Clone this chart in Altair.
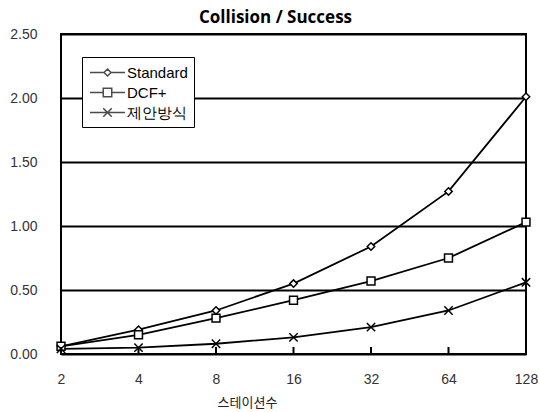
import altair as alt
import pandas as pd

stations = ["2", "4", "8", "16", "32", "64", "128"]
series_names = ["Standard", "DCF+", "제안방식"]
standard = [0.06, 0.19, 0.34, 0.55, 0.84, 1.27, 2.01]
dcf = [0.06, 0.15, 0.28, 0.42, 0.57, 0.75, 1.03]
proposed = [0.04, 0.05, 0.08, 0.13, 0.21, 0.34, 0.56]
y_ticks = [0, 0.5, 1.0, 1.5, 2.0, 2.5]

rows = []
for name, vals in zip(series_names, [standard, dcf, proposed]):
    for s, v in zip(stations, vals):
        rows.append({"stations": s, "series": name, "value": v})
df = pd.DataFrame(rows)
tick_df = pd.DataFrame({"stations": stations})

W, H = 465, 320
XPATH = "M-1,-1L1,1M1,-1L-1,1"
LEG_PATHS = [
    "M-2.06,0L-0.41,0M0,-0.41L0.41,0L0,0.41L-0.41,0ZM0.41,0L2.06,0",
    "M-2.06,0L-0.5,0M-0.5,-0.5L0.5,-0.5L0.5,0.5L-0.5,0.5ZM0.5,0L2.06,0",
    "M-2.06,0L2.06,0M-0.5,-0.5L0.5,0.5M0.5,-0.5L-0.5,0.5",
]

x_scale = alt.Scale(type="point", padding=0)
x_enc = alt.X(
    "stations:O",
    sort=stations,
    scale=x_scale,
    axis=alt.Axis(
        title="스테이션수",
        labelAngle=0,
        tickSize=0,
        domain=False,
        labelPadding=18,
        titleFont="Noto Sans CJK KR",
        titleFontSize=13,
        titleFontWeight="normal",
        titleColor="#222",
        titleX=186,
        titleY=48,
        titleBaseline="middle",
    ),
)
y_enc = alt.Y(
    "value:Q",
    scale=alt.Scale(domain=[0, 2.5], nice=False),
    axis=alt.Axis(
        values=y_ticks,
        format=".2f",
        tickSize=0,
        domain=False,
        labelPadding=24,
        gridColor="black",
        gridWidth=2,
        title=None,
    ),
)

base = alt.Chart(df)

lines = base.mark_line(color="black", strokeWidth=1.8).encode(
    x=x_enc, y=y_enc, detail="series:N"
)

points = base.mark_point(
    filled=False, fill="white", stroke="black", strokeWidth=1.5, opacity=1
).encode(
    x=x_enc,
    y=y_enc,
    shape=alt.Shape(
        "series:N",
        scale=alt.Scale(domain=series_names, range=["diamond", "square", XPATH]),
        legend=None,
    ),
    size=alt.Size(
        "series:N",
        scale=alt.Scale(domain=series_names, range=[55, 70, 64]),
        legend=None,
    ),
)

legend_layer = (
    base.transform_filter("false")
    .mark_point(filled=False, fill="white", stroke="black", strokeWidth=1.5)
    .encode(
        x=x_enc,
        y=y_enc,
        shape=alt.Shape(
            "series:N",
            scale=alt.Scale(domain=series_names, range=LEG_PATHS),
            legend=alt.Legend(
                title=None,
                orient="none",
                legendX=21,
                legendY=23,
                strokeColor="black",
                fillColor="white",
                padding=6,
                symbolSize=289,
                symbolOffset=10,
                labelOffset=10,
                labelFontSize=15,
            ),
        ),
    )
)

ticks = alt.Chart(tick_df).mark_rule(color="black", strokeWidth=2).encode(
    x=alt.X("stations:O", sort=stations, scale=x_scale),
    y=alt.value(H - 7),
    y2=alt.value(H),
)

chart = (
    alt.layer(lines, points, ticks, legend_layer)
    .resolve_scale(shape="independent")
    .properties(
        width=W,
        height=H,
        title=alt.TitleParams(
            "Collision / Success",
            font="Open Sans",
            fontSize=17,
            fontWeight="bold",
            color="black",
            dx=-18,
            offset=0,
        ),
        autosize=alt.AutoSizeParams(type="none"),
        padding={"left": 61, "top": 34, "right": 13, "bottom": 58},
    )
    .configure_view(stroke="black", strokeWidth=2)
    .configure_axis(
        labelFont="Liberation Sans",
        labelFontSize=14,
        labelColor="#333",
    )
)

chart.save("out.html", embed_options={"renderer": "svg", "actions": False})
